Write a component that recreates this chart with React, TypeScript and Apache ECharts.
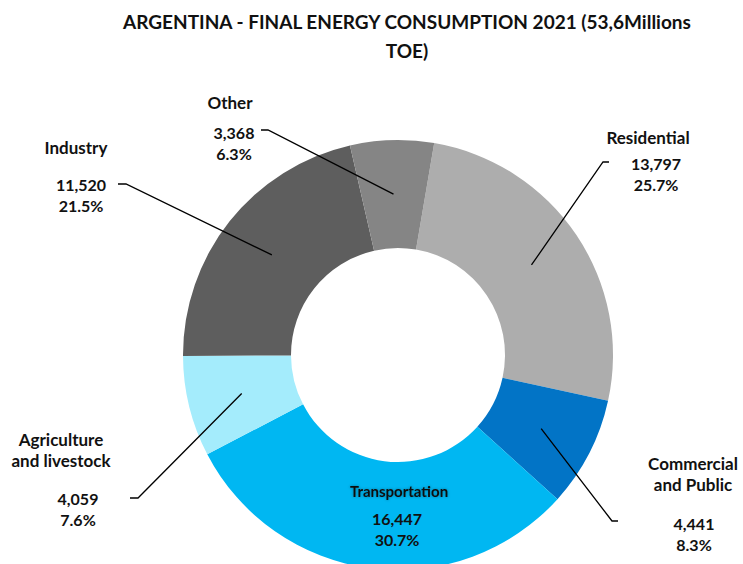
import React, { useEffect, useRef } from 'react';
import * as echarts from 'echarts';

// ---- data ----
const categories = ['Residential', 'Commercial and Public', 'Transportation', 'Agriculture and livestock', 'Industry', 'Other'];
const labelNames = [['Residential'], ['Commercial', 'and Public'], ['Transportation'], ['Agriculture', 'and livestock'], ['Industry'], ['Other']];
const values = [13797, 4441, 16447, 4059, 11520, 3368];
const colors = ['#ADADAD', '#0274C6', '#00B7F2', '#A4ECFC', '#5E5E5E', '#858585'];
const titleText = 'ARGENTINA - FINAL ENERGY CONSUMPTION 2021 (53,6Millions\nTOE)';

// ---- layout (not data) ----
const CX = 398;
const CY = 355;
const R_IN = 107;
const R_OUT = 215;
const START_ANGLE = 80.3;
const FONT = 'Lato';

const labelLayouts = [
  { x: 648, y: 126.25, gap: 4.5, dx: 8, size: 17, elbow: [[603, 162], [609, 162]] },
  { x: 693, y: 452.25, gap: 17, dx: 1, size: 17, elbow: [[612, 521], [618, 521]] },
  { x: 399, y: 480.25, gap: 5.5, dx: -2, size: 15, elbow: null },
  { x: 61, y: 428.25, gap: 16, dx: 17, size: 17, elbow: [[138, 498], [130, 498]] },
  { x: 76, y: 136.25, gap: 15.5, dx: 5, size: 17, elbow: [[126, 184], [118, 184]] },
  { x: 230, y: 91.75, gap: 8, dx: 4, size: 17, elbow: [[268, 130], [261, 130]] },
];

const total = values.reduce((a, b) => a + b, 0);
const fmtNum = (v: number) => v.toLocaleString('en-US');
const fmtPct = (v: number) => ((v / total) * 100).toFixed(1) + '%';

function midPoint(i: number, r: number) {
  let cum = 0;
  for (let k = 0; k < i; k++) cum += values[k];
  const mid = cum + values[i] / 2;
  const theta = ((START_ANGLE - (mid / total) * 360) * Math.PI) / 180;
  return [CX + r * Math.cos(theta), CY - r * Math.sin(theta)];
}

export default function App() {
  const ref = useRef<HTMLDivElement>(null);
  useEffect(() => {
    if (!ref.current) return;
    const chart = echarts.init(ref.current, null, { renderer: 'svg' });
    const rich: any = {};
    labelLayouts.forEach((l, i) => {
      rich['n' + i] = {
        fontFamily: FONT,
        fontWeight: 'bold',
        fontSize: l.size,
        lineHeight: 21.5,
        color: '#111',
        ...(i === 2 ? { textShadowColor: 'rgba(0,0,0,0.35)', textShadowBlur: 3 } : {}),
      };
      rich['g' + i] = { fontSize: 4, lineHeight: l.gap };
      rich['v' + i] = {
        fontFamily: FONT,
        fontWeight: 'bold',
        fontSize: 16,
        lineHeight: 21.5,
        color: '#111',
        padding: l.dx >= 0 ? [0, 0, 0, 2 * l.dx] : [0, -2 * l.dx, 0, 0],
      };
    });

    const sectorData = categories.map((name, i) => ({
      name,
      value: values[i],
      itemStyle: { color: colors[i] },
    }));
    const labelData = categories.map((name, i) => ({
      name,
      value: values[i],
      itemStyle: { color: 'rgba(0,0,0,0)' },
      labelLine: { show: labelLayouts[i].elbow != null },
    }));

    const common = {
      type: 'pie',
      center: [CX, CY],
      radius: [R_IN, R_OUT],
      startAngle: START_ANGLE,
      clockwise: true,
      avoidLabelOverlap: false,
      emphasis: { disabled: true },
      silent: true,
    };

    chart.setOption({
      animation: false,
      backgroundColor: '#fff',
      graphic: [
        {
          type: 'text',
          x: 407,
          y: 7,
          style: {
            text: titleText,
            align: 'center',
            verticalAlign: 'top',
            fontFamily: FONT,
            fontWeight: 'bold',
            fontSize: 19,
            lineHeight: 29,
            fill: '#111',
          },
        },
      ],
      series: [
        {
          ...common,
          z: 2,
          label: { show: false },
          labelLine: { show: false },
          data: sectorData,
        },
        {
          ...common,
          z: 5,
          label: {
            show: true,
            position: 'outside',
            formatter: (p: any) => {
              const i = p.dataIndex;
              const names = labelNames[i].map((n) => `{n${i}|${n}}`).join('\n');
              return `${names}\n{g${i}| }\n{v${i}|${fmtNum(values[i])}}\n{v${i}|${fmtPct(values[i])}}`;
            },
            rich,
          },
          labelLine: {
            show: true,
            smooth: false,
            lineStyle: { color: '#000', width: 1.3 },
          },
          labelLayout: (params: any) => {
            const i = params.dataIndex;
            const l = labelLayouts[i];
            const res: any = { x: l.x, y: l.y, align: 'center', verticalAlign: 'top' };
            if (l.elbow) {
              res.labelLinePoints = [midPoint(i, (R_IN + R_OUT) / 2), ...l.elbow];
            }
            return res;
          },
          data: labelData,
        },
      ],
    });
    return () => chart.dispose();
  }, []);
  return <div ref={ref} style={{ position: 'absolute', left: 0, top: 0, width: 743, height: 564 }} />;
}
